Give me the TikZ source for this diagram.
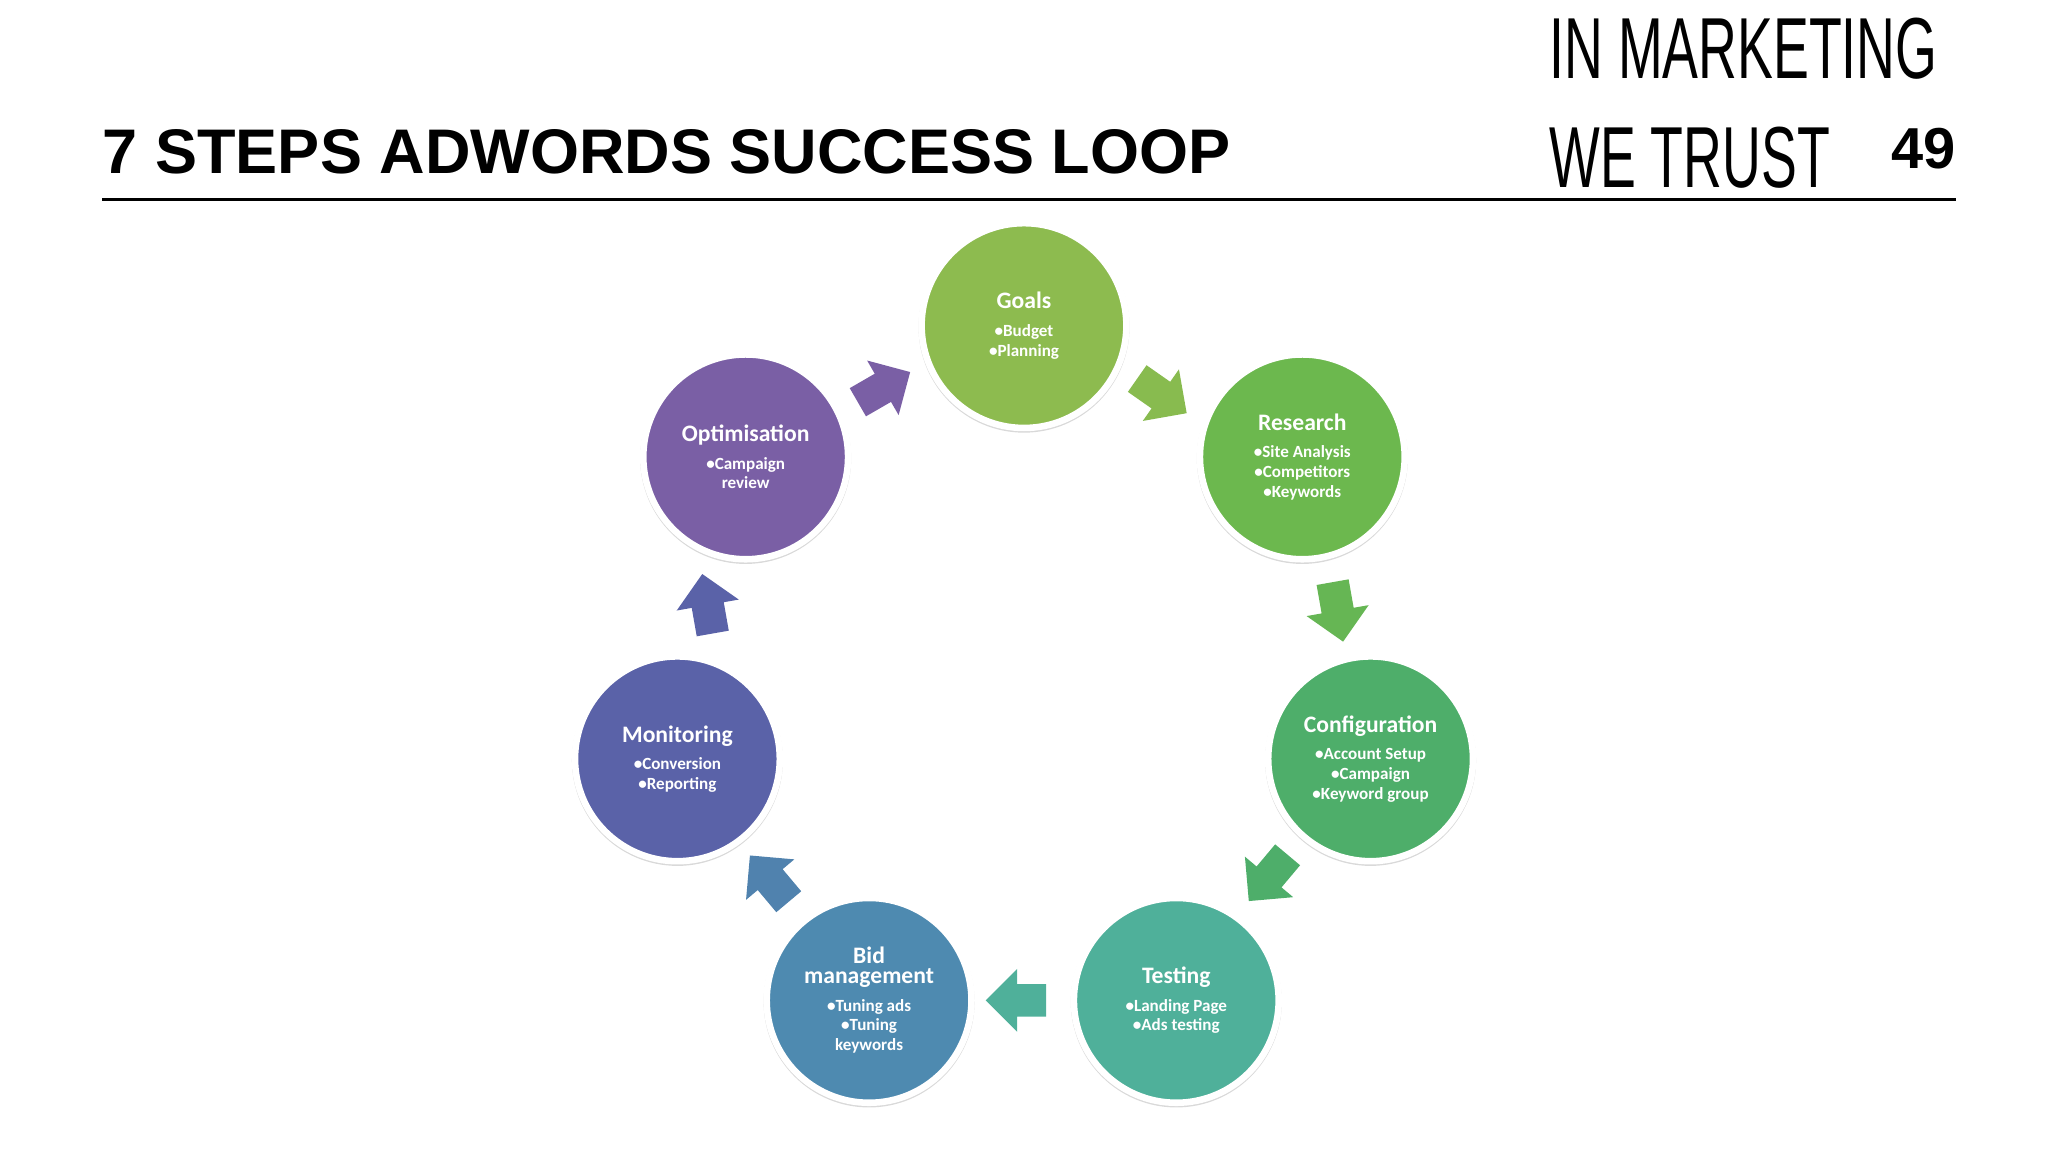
\documentclass[tikz,border=0pt]{standalone}
\usepackage{fontspec}
\setmainfont{Liberation Sans}
\newfontfamily\cali{Carlito}
\usetikzlibrary{shapes.arrows,shadows}
\definecolor{cGoals}{HTML}{8DBB4F}
\definecolor{cRes}{HTML}{6CB84E}
\definecolor{cConf}{HTML}{4EAE6A}
\definecolor{cTest}{HTML}{4FB09A}
\definecolor{cBid}{HTML}{4E8AB0}
\definecolor{cMon}{HTML}{5A62A8}
\definecolor{cOpt}{HTML}{7A5FA5}
\tikzset{
  adstep/.style={circle,minimum size=78pt,draw=white,line width=2.5pt,text=white,
    align=center,font=\cali\bfseries\fontsize{6.5}{7.5}\selectfont,inner sep=0pt,
    drop shadow={shadow xshift=0pt,shadow yshift=-0.6pt,shadow scale=1.03,opacity=0.3}},
  loop arrow/.style={single arrow,minimum height=23pt,minimum width=24pt,
    single arrow head extend=3pt,inner sep=3pt,draw=none}
}
\newcommand{\ttl}[1]{{\fontsize{9}{10}\selectfont #1}\\[3pt]}
\newcommand{\ttlbig}[1]{{\fontsize{9}{10}\selectfont #1}}
\begin{document}
\begin{tikzpicture}[x=0.5pt,y=0.5pt,yscale=-1]
\useasboundingbox (0,0) rectangle (1560,876);
% header
\node[anchor=base west,inner sep=0pt,font=\bfseries\fontsize{24}{24}\selectfont] (title) at (78,132) {7 STEPS ADWORDS SUCCESS LOOP};
\node[anchor=base east,inner sep=0pt,font=\bfseries\fontsize{22}{22}\selectfont] (page) at (1490,128) {49};
\node[anchor=base west,inner sep=0pt,font=\fontsize{33}{33}\selectfont,xscale=0.62] (brandA) at (1180,60) {IN MARKETING};
\node[anchor=base west,inner sep=0pt,font=\fontsize{33}{33}\selectfont,xscale=0.62] (brandB) at (1180,143) {WE TRUST};
\coordinate (ruleL) at (78,152);
\coordinate (ruleR) at (1490,152);
\draw[line width=1pt] (ruleL) -- (ruleR);
% steps
\node[adstep,fill=cGoals] (goals) at (780,248) {\ttl{Goals}\textbullet Budget\\\textbullet Planning};
\node[adstep,fill=cRes] (research) at (992,348) {\ttl{Research}\textbullet Site Analysis\\\textbullet Competitors\\\textbullet Keywords};
\node[adstep,fill=cConf] (config) at (1044,578) {\ttl{Configuration}\textbullet Account Setup\\\textbullet Campaign\\\textbullet Keyword group};
\node[adstep,fill=cTest] (testing) at (896,762) {\ttl{Testing}\textbullet Landing Page\\\textbullet Ads testing};
\node[adstep,fill=cBid] (bid) at (662,762) {\ttlbig{Bid}\\\ttl{management}\textbullet Tuning ads\\\textbullet Tuning\\keywords};
\node[adstep,fill=cMon] (monitor) at (516,578) {\ttl{Monitoring}\textbullet Conversion\\\textbullet Reporting};
\node[adstep,fill=cOpt] (optim) at (568,348) {\ttl{Optimisation}\textbullet Campaign\\review};
% arrows
\node[loop arrow,fill=cGoals!85!cRes,rotate=-35] (a1) at (880,298) {};
\node[loop arrow,fill=cRes!80!cConf,rotate=-80] (a2) at (1018,460) {};
\node[loop arrow,fill=cConf,rotate=-130] (a3) at (970,664) {};
\node[loop arrow,fill=cTest,rotate=180] (a4) at (780,762) {};
\node[loop arrow,fill=cBid!80!cMon,rotate=130] (a5) at (590,674) {};
\node[loop arrow,fill=cMon,rotate=100] (a6) at (540,466) {};
\node[loop arrow,fill=cOpt,rotate=30] (a7) at (668,298) {};
\end{tikzpicture}
\end{document}
